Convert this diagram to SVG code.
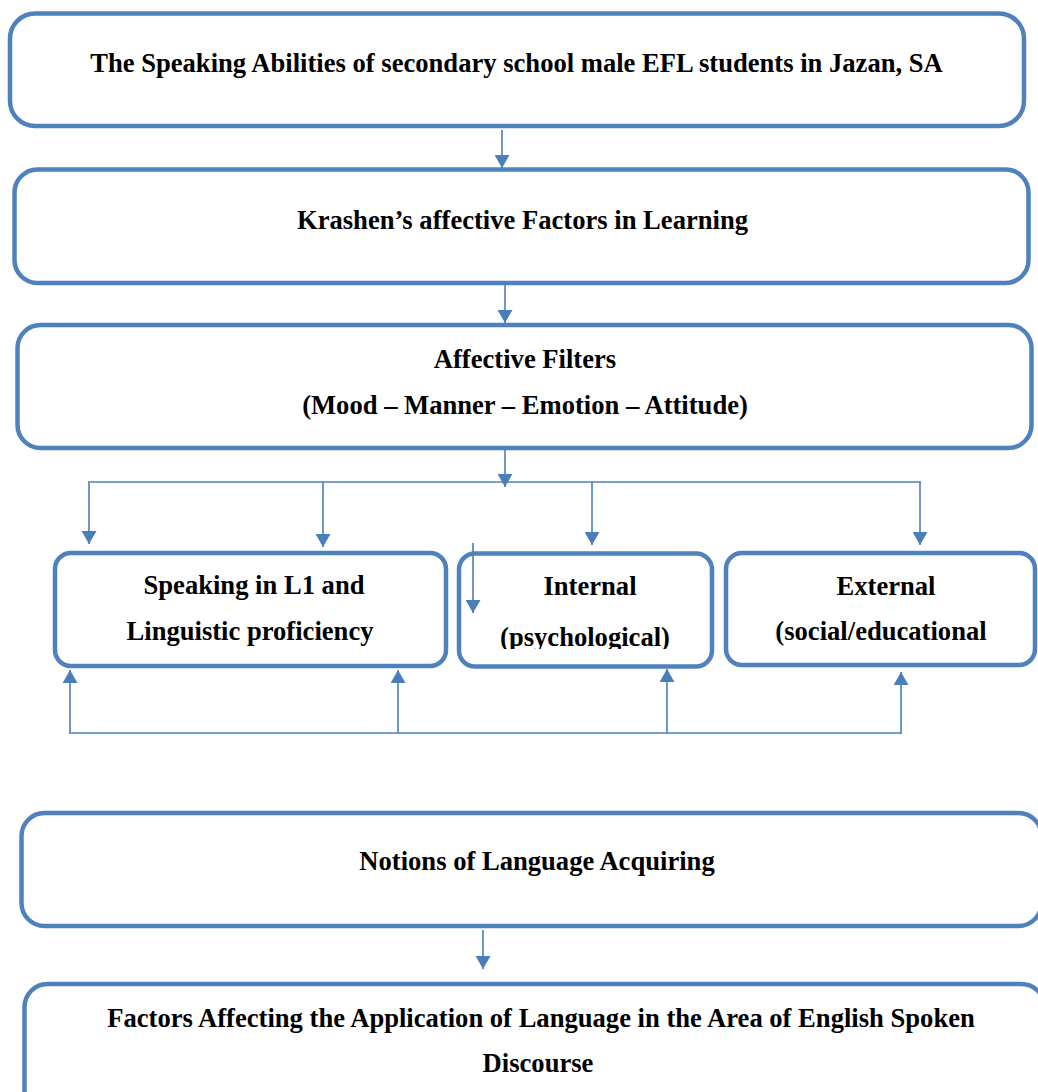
<svg xmlns="http://www.w3.org/2000/svg" width="1038" height="1092" viewBox="0 0 1038 1092">
<style>
  .box { fill: #ffffff; stroke: #4f81bd; stroke-width: 4.5; }
  .lbl { font-family: "Liberation Serif", "Times New Roman", serif; font-weight: bold; font-size: 26.6px; fill: #000000; text-anchor: middle; }
  .con { fill: none; stroke: #4a7ebb; stroke-width: 1.6; }
  .arr { marker-end: url(#ah); }
</style>
<defs>
  <marker id="ah" viewBox="0 0 13 15" refX="13" refY="7.5" markerWidth="13" markerHeight="15" markerUnits="userSpaceOnUse" orient="auto">
    <path d="M0,0 L13,7.5 L0,15 z" fill="#4a7ebb"/>
  </marker>
  <clipPath id="clipPsy">
    <rect x="459" y="553" width="253" height="96"/>
  </clipPath>
</defs>
<rect width="1038" height="1092" fill="#ffffff"/>

<g id="n-title">
  <rect class="box" x="10" y="13.5" width="1014" height="112.5" rx="25"/>
  <text class="lbl" x="516.5" y="72">The Speaking Abilities of secondary school male EFL students in Jazan, SA</text>
</g>
<g id="n-krashen">
  <rect class="box" x="14.5" y="169.5" width="1014" height="113.5" rx="23"/>
  <text class="lbl" x="522.5" y="229">Krashen’s affective Factors in Learning</text>
</g>
<g id="n-filters">
  <rect class="box" x="17.5" y="325" width="1014" height="123" rx="23"/>
  <text class="lbl" x="525" y="368">Affective Filters</text>
  <text class="lbl" x="525" y="414">(Mood – Manner – Emotion – Attitude)</text>
</g>
<g id="n-speaking">
  <rect class="box" x="55" y="553" width="391" height="113" rx="16"/>
  <text class="lbl" x="254" y="594">Speaking in L1 and</text>
  <text class="lbl" x="250" y="640">Linguistic proficiency</text>
</g>
<g id="n-internal">
  <rect class="box" x="459" y="553.5" width="253" height="113" rx="16"/>
  <text class="lbl" x="590" y="595">Internal</text>
  <text class="lbl" x="585" y="645.5" clip-path="url(#clipPsy)">(psychological)</text>
</g>
<g id="n-external">
  <rect class="box" x="726" y="553" width="309" height="112" rx="16"/>
  <text class="lbl" x="886" y="595">External</text>
  <text class="lbl" x="881" y="640">(social/educational</text>
</g>
<g id="n-notions">
  <rect class="box" x="21.5" y="813" width="1020" height="113" rx="23"/>
  <text class="lbl" x="537" y="870">Notions of Language Acquiring</text>
</g>
<g id="n-factors">
  <rect class="box" x="24.5" y="984" width="1020" height="140" rx="23"/>
  <text class="lbl" x="541" y="1027">Factors Affecting the Application of Language in the Area of English Spoken</text>
  <text class="lbl" x="538" y="1072">Discourse</text>
</g>

<g id="connectors">
  <path class="con arr" d="M502,130 V168"/>
  <path class="con arr" d="M505,285 V323"/>
  <path class="con arr" d="M505,450 V487"/>
  <path class="con" d="M90,482 H921"/>
  <path class="con arr" d="M89,481 V544"/>
  <path class="con arr" d="M323,482 V547"/>
  <path class="con arr" d="M592,482 V545"/>
  <path class="con arr" d="M920,482 V545"/>
  <path class="con arr" d="M473,543 V613"/>
  <path class="con" d="M69,733 H901"/>
  <path class="con arr" d="M70,733 V670"/>
  <path class="con arr" d="M398,733 V670"/>
  <path class="con arr" d="M667,733 V669"/>
  <path class="con arr" d="M901,734 V672"/>
  <path class="con arr" d="M483,930 V969"/>
</g>
</svg>
